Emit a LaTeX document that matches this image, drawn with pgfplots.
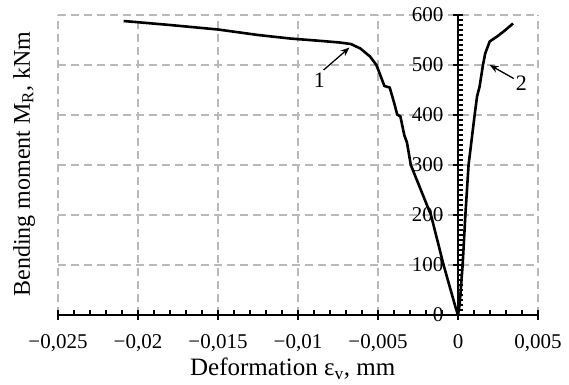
\documentclass[border=0pt]{standalone}
\usepackage{fontspec}
\setmainfont{Liberation Serif}
\usepackage{pgfplots}
\pgfplotsset{compat=1.18}
\usetikzlibrary{arrows.meta}
\definecolor{gridgray}{RGB}{185,185,185}
\begin{document}
\begin{tikzpicture}
\begin{axis}[
  scale only axis, width=480pt, height=300pt,
  xmin=-0.025, xmax=0.005, ymin=0, ymax=600,
  axis lines=middle,
  axis line style={-, line width=2.3pt},
  scaled x ticks=false, scaled y ticks=false,
  xtick={-0.025,-0.02,-0.015,-0.01,-0.005,0,0.005},
  xticklabels={{−0,025},{−0,02},{−0,015},{−0,01},{−0,005},{0},{0,005}},
  ytick={0,100,200,300,400,500,600},
  yticklabels={0,100,200,300,400,500,600},
  minor x tick num=4, minor y tick num=9,
  hide obscured x ticks=false, hide obscured y ticks=false,
  tick align=inside,
  major tick length=10pt, minor tick length=5pt,
  every major x tick/.append style={yshift=-5pt},
  every major y tick/.append style={xshift=-5pt},
  every tick/.style={black, line width=1.6pt},
  grid=major,
  major grid style={gridgray, line width=1.3pt, dash pattern=on 8pt off 5pt},
  tick label style={font=\fontsize{21}{24}\selectfont},
  xticklabel style={yshift=-16pt},
  yticklabel style={xshift=-11pt},
  xlabel={Deformation ε\textsubscript{v}, mm},
  ylabel={Bending moment M\textsubscript{R}, kNm},
  every axis x label/.style={at={(axis description cs:0.275,-0.2033)}, anchor=base west, inner sep=0pt, font=\fontsize{25}{28}\selectfont},
  every axis y label/.style={at={(axis description cs:-0.0708,0.503)}, anchor=center, rotate=90, font=\fontsize{24}{28}\selectfont},
]
\addplot[black, line width=2.6pt, line join=round] coordinates {
(-0.0209,588) (-0.018,580) (-0.015,571) (-0.0125,560) (-0.0105,553)
(-0.0085,548) (-0.0074,545) (-0.0067,542) (-0.0061,533) (-0.0055,517)
(-0.0051,500) (-0.00486,480) (-0.0046,458) (-0.00427,455) (-0.00398,423)
(-0.0038,401) (-0.0036,397) (-0.00336,360) (-0.00319,345) (-0.00295,300)
(-0.00169,200) (-0.0009,100) (-0.00015,15) (0,0)
};
\addplot[black, line width=2.6pt, line join=round] coordinates {
(0,0) (0.0001,20) (0.00029,100) (0.00046,200) (0.00066,300) (0.00085,350)
(0.00104,400) (0.00119,437) (0.00135,457) (0.00156,500) (0.0017,523)
(0.00198,547) (0.00244,557) (0.00285,567) (0.00344,583)
};
\draw[-{Stealth[length=9pt,width=7pt]}, line width=1.3pt] (axis cs:-0.0084,490) -- (axis cs:-0.00678,535);
\draw[-{Stealth[length=9pt,width=7pt]}, line width=1.3pt] (axis cs:0.00348,473) -- (axis cs:0.00198,500);
\node[font=\fontsize{22}{24}\selectfont] at (axis cs:-0.00867,470) {1};
\node[font=\fontsize{22}{24}\selectfont] at (axis cs:0.00396,464) {2};
\end{axis}
\pgfresetboundingbox
\path[use as bounding box] (-58pt,-69pt) rectangle (511pt,315pt);
\end{tikzpicture}
\end{document}
